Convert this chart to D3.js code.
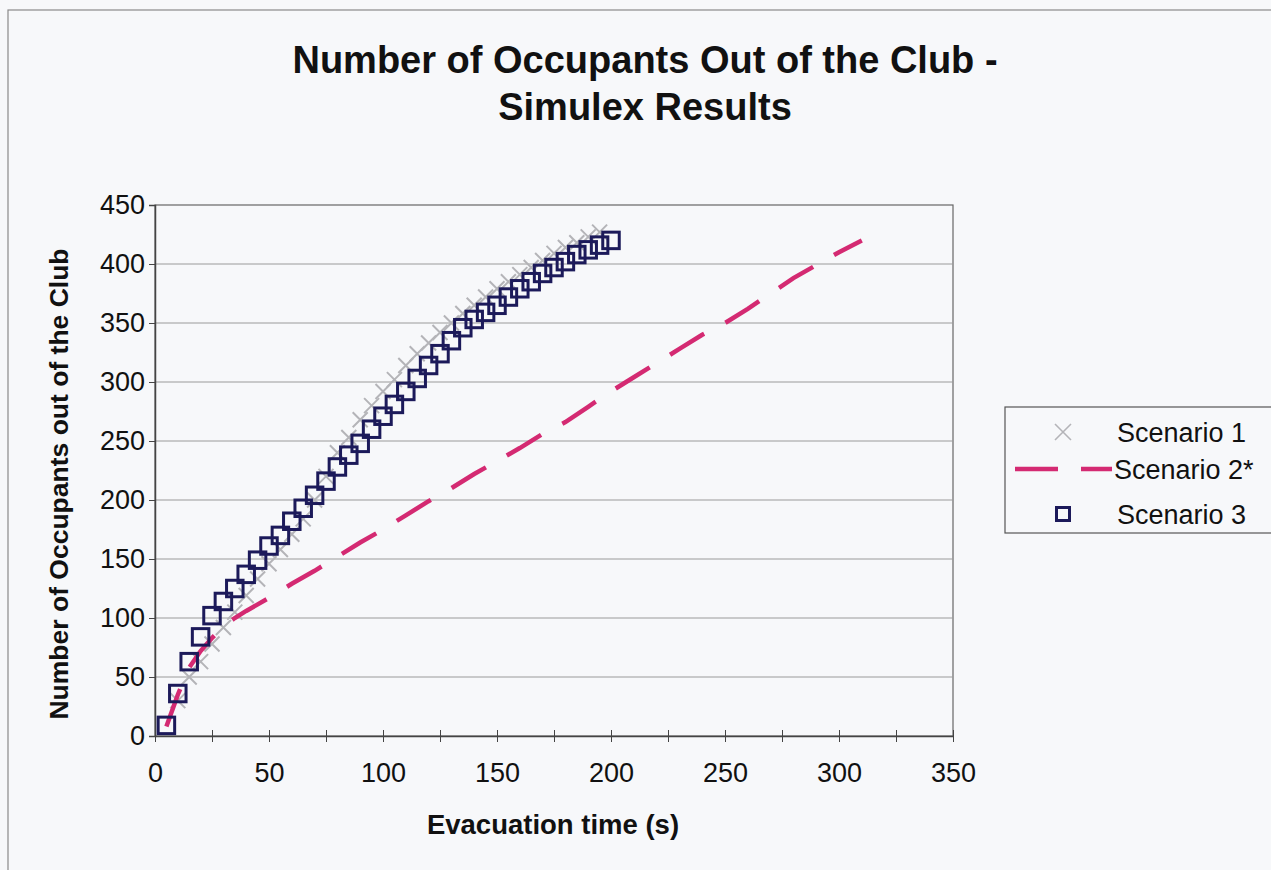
<!DOCTYPE html>
<html><head><meta charset="utf-8">
<script src="https://cdn.jsdelivr.net/npm/d3@7"></script>
<style>
html,body{margin:0;padding:0;background:#f7f8fa;}
svg{display:block;font-family:"Liberation Sans",Arial,sans-serif;}
</style></head>
<body><svg id="c" width="1271" height="870"></svg>
<script>
const titleLines = ["Number of Occupants Out of the Club -", "Simulex Results"];
const xLabel = "Evacuation time (s)";
const yLabel = "Number of Occupants out of the Club";
const xTicks = [0,50,100,150,200,250,300,350];
const xMinorTicks = [0,25,50,75,100,125,150,175,200,225,250,275,300,325,350];
const yTicks = [0,50,100,150,200,250,300,350,400,450];
const seriesNames = ["Scenario 1","Scenario 2*","Scenario 3"];

const s1Time = [10,15,20,25,30,35,40,45,50,55,60,65,70,75,80,85,90,95,100,105,110,115,120,125,130,135,140,145,150,155,160,165,170,175,180,185,190,195];
const s1Val  = [30,50,63,78,92,105,119,133,146,158,171,184,200,220,240,253,268,280,292,302,314,324,333,342,350,358,365,372,379,385,391,397,403,409,414,418,423,427];

const s2Time = [5,10,15,20,25,30,35,40,50,60,70,80,90,100,110,120,130,140,150,160,170,180,190,200,210,220,230,240,250,260,270,280,290,300,310];
const s2Val  = [8,35,58,72,83,93,100,106,117,129,140,152,164,175,187,199,210,222,233,244,256,266,279,292,304,316,328,340,350,362,375,388,399,410,420];

const s3Time = [5,10,15,20,25,30,35,40,45,50,55,60,65,70,75,80,85,90,95,100,105,110,115,120,125,130,135,140,145,150,155,160,165,170,175,180,185,190,195,200];
const s3Val  = [9,36,63,84,102,114,125,137,149,161,170,182,193,204,216,228,238,248,260,271,281,292,303,314,324,335,346,353,359,365,372,379,385,392,397,402,408,412,416,420];

const C1 = "#b4b4b8", C2 = "#d42a72", C3 = "#1c1a5a";
const FONT = "Liberation Sans, Arial, sans-serif";
const svg = d3.select("#c");
const x = d3.scaleLinear().domain([0,350]).range([155,953]);
const y = d3.scaleLinear().domain([0,450]).range([736,205]);

// chart border
svg.append("rect").attr("x",8).attr("y",10).attr("width",1300).attr("height",900)
  .attr("fill","#f7f8fa").attr("stroke","#8a8a8a").attr("stroke-width",1.2);

// title
svg.append("text").attr("x",645).attr("y",73).attr("text-anchor","middle")
  .attr("font-size",38).attr("font-weight","bold").attr("fill","#111").text(titleLines[0]);
svg.append("text").attr("x",645).attr("y",120).attr("text-anchor","middle")
  .attr("font-size",38).attr("font-weight","bold").attr("fill","#111").text(titleLines[1]);

// plot area
svg.append("rect").attr("x",x(0)).attr("y",y(450)).attr("width",x(350)-x(0)).attr("height",y(0)-y(450))
  .attr("fill","#f7f8fa").attr("stroke","#666").attr("stroke-width",1.2);

// gridlines
svg.append("g").selectAll("line").data(yTicks.slice(1,-1)).join("line")
  .attr("x1",x(0)).attr("x2",x(350)).attr("y1",d=>y(d)).attr("y2",d=>y(d))
  .attr("stroke","#9a9a9a").attr("stroke-width",1);

// y axis
const yAxis = d3.axisLeft(y).tickValues(yTicks).tickSize(6).tickPadding(4).tickFormat(d3.format("d"));
const gy = svg.append("g").attr("transform",`translate(${x(0)},0)`).call(yAxis);
gy.select(".domain").attr("stroke","#444").attr("stroke-width",1.5);
gy.selectAll(".tick line").attr("stroke","#444");
gy.selectAll("text").attr("font-size",27).attr("fill","#111").attr("font-family",FONT);

// x axis
const xAxisMinor = d3.axisBottom(x).tickValues(xMinorTicks).tickSize(6).tickFormat("");
const gxm = svg.append("g").attr("transform",`translate(0,${y(0)-6})`).call(xAxisMinor);
gxm.select(".domain").remove();
gxm.selectAll(".tick line").attr("stroke","#444").attr("y2",12);
const xAxis = d3.axisBottom(x).tickValues(xTicks).tickSize(0).tickPadding(27).tickFormat(d3.format("d"));
const gx = svg.append("g").attr("transform",`translate(0,${y(0)})`).call(xAxis);
gx.select(".domain").attr("stroke","#444").attr("stroke-width",1.5);
gx.selectAll("text").attr("font-size",27).attr("fill","#111").attr("font-family",FONT);

// axis titles
svg.append("text").attr("x",553).attr("y",834).attr("text-anchor","middle")
  .attr("font-size",27.5).attr("font-weight","bold").attr("fill","#111").text(xLabel);
svg.append("text").attr("transform","translate(68,484) rotate(-90)").attr("text-anchor","middle")
  .attr("font-size",26.5).attr("font-weight","bold").attr("fill","#111").text(yLabel);

// series 1: X markers
const xm = 7.5;
const d1 = s1Time.map((t,i)=>({t,v:s1Val[i]}));
svg.append("g").selectAll("path").data(d1).join("path")
  .attr("d",d=>{const cx=x(d.t), cy=y(d.v);return `M${cx-xm},${cy-xm}L${cx+xm},${cy+xm}M${cx-xm},${cy+xm}L${cx+xm},${cy-xm}`;})
  .attr("stroke",C1).attr("stroke-width",2).attr("fill","none");

// series 2: dashed line
const d2 = s2Time.map((t,i)=>({t,v:s2Val[i]}));
svg.append("path").datum(d2)
  .attr("d",d3.line().x(d=>x(d.t)).y(d=>y(d.v)))
  .attr("fill","none").attr("stroke",C2).attr("stroke-width",4.5)
  .attr("stroke-dasharray","40,24").attr("stroke-linecap","butt");

// series 3: squares
const sq = 16.5;
const d3d = s3Time.map((t,i)=>({t,v:s3Val[i]}));
svg.append("g").selectAll("rect").data(d3d).join("rect")
  .attr("x",d=>x(d.t)-sq/2).attr("y",d=>y(d.v)-sq/2).attr("width",sq).attr("height",sq)
  .attr("fill","none").attr("stroke",C3).attr("stroke-width",3);

// legend
const lg = svg.append("g");
lg.append("rect").attr("x",1005).attr("y",407).attr("width",300).attr("height",126)
  .attr("fill","#f7f8fa").attr("stroke","#555").attr("stroke-width",1.2);
const ly = [432,469,514];
lg.append("path").attr("d",`M${1063-8},${ly[0]-8}L${1063+8},${ly[0]+8}M${1063-8},${ly[0]+8}L${1063+8},${ly[0]-8}`)
  .attr("stroke",C1).attr("stroke-width",1.6).attr("fill","none");
lg.append("line").attr("x1",1015).attr("x2",1112).attr("y1",ly[1]).attr("y2",ly[1])
  .attr("stroke",C2).attr("stroke-width",4.5).attr("stroke-dasharray","43,23");
lg.append("rect").attr("x",1063-6.5).attr("y",ly[2]-6.5).attr("width",13).attr("height",13)
  .attr("fill","none").attr("stroke",C3).attr("stroke-width",3);
lg.selectAll("text.l").data(seriesNames).join("text").attr("class","l")
  .attr("x",(d,i)=>i===1?1114:1117).attr("y",(d,i)=>ly[i]+10)
  .attr("font-size",27).attr("fill","#111").text(d=>d);
</script></body></html>
